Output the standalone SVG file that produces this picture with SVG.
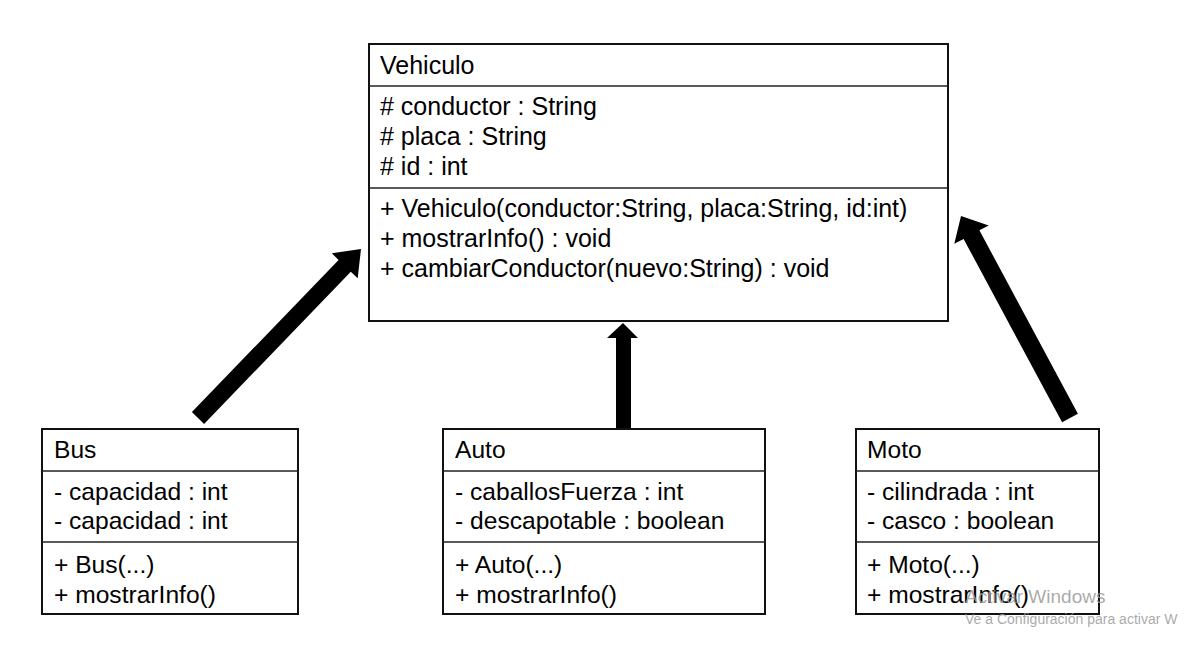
<svg xmlns="http://www.w3.org/2000/svg" width="1187" height="654" viewBox="0 0 1187 654">
<style>
  .box { fill: #ffffff; stroke: #111111; stroke-width: 2; }
  .sep { stroke: #222222; stroke-width: 1.6; }
  .t { font-family: "Liberation Sans", Arial, sans-serif; font-size: 24.6px; fill: #000000; }
  .big { font-size: 25px; }
  .arrow { fill: #000000; stroke: none; }
  .wm1 { font-family: "Liberation Sans", Arial, sans-serif; font-size: 19px; fill: #9a9a9a; fill-opacity: 0.85; }
  .wm2 { font-family: "Liberation Sans", Arial, sans-serif; font-size: 14px; fill: #9a9a9a; fill-opacity: 0.85; }
</style>
<rect width="1187" height="654" fill="#ffffff"/>

<g id="connectors">
  <polygon class="arrow" points="191.9,412.1 338.6,259.9 331.8,253.3 361,249 357.7,278.3 350.8,271.7 204.1,423.9"/>
  <polygon class="arrow" points="616,429 616,338 607,338 623,323 638,338 631,338 631,429"/>
  <polygon class="arrow" points="1077.9,413.7 979.4,230.3 988.7,225.4 961,216 954.3,243.8 963.6,238.9 1062.1,422.3"/>
</g>

<g id="Vehiculo">
  <rect class="box" x="369" y="44" width="579" height="277"/>
  <line class="sep" x1="369" y1="86" x2="948" y2="86"/>
  <line class="sep" x1="369" y1="188" x2="948" y2="188"/>
  <text class="t big" x="380" y="74">Vehiculo</text>
  <text class="t big" x="380" y="115"># conductor : String</text>
  <text class="t big" x="380" y="145"># placa : String</text>
  <text class="t big" x="380" y="175"># id : int</text>
  <text class="t big" x="380" y="217">+ Vehiculo(conductor:String, placa:String, id:int)</text>
  <text class="t big" x="380" y="247">+ mostrarInfo() : void</text>
  <text class="t big" x="380" y="277">+ cambiarConductor(nuevo:String) : void</text>
</g>

<g id="Bus">
  <rect class="box" x="42" y="429" width="256" height="185"/>
  <line class="sep" x1="42" y1="471" x2="298" y2="471"/>
  <line class="sep" x1="42" y1="542" x2="298" y2="542"/>
  <text class="t" x="54" y="458">Bus</text>
  <text class="t" x="54" y="500">- capacidad : int</text>
  <text class="t" x="54" y="529">- capacidad : int</text>
  <text class="t" x="54" y="573">+ Bus(...)</text>
  <text class="t" x="54" y="603">+ mostrarInfo()</text>
</g>

<g id="Auto">
  <rect class="box" x="443" y="429" width="322" height="185"/>
  <line class="sep" x1="443" y1="471" x2="765" y2="471"/>
  <line class="sep" x1="443" y1="542" x2="765" y2="542"/>
  <text class="t" x="455" y="458">Auto</text>
  <text class="t" x="455" y="500">- caballosFuerza : int</text>
  <text class="t" x="455" y="529">- descapotable : boolean</text>
  <text class="t" x="455" y="573">+ Auto(...)</text>
  <text class="t" x="455" y="603">+ mostrarInfo()</text>
</g>

<g id="Moto">
  <rect class="box" x="856" y="429" width="243" height="185"/>
  <line class="sep" x1="856" y1="471" x2="1099" y2="471"/>
  <line class="sep" x1="856" y1="542" x2="1099" y2="542"/>
  <text class="t" x="867" y="458">Moto</text>
  <text class="t" x="867" y="500">- cilindrada : int</text>
  <text class="t" x="867" y="529">- casco : boolean</text>
  <text class="t" x="867" y="573">+ Moto(...)</text>
  <text class="t" x="867" y="603">+ mostrarInfo()</text>
</g>

<g id="watermark">
  <text class="wm1" x="965" y="603">Activar Windows</text>
  <text class="wm2" x="965" y="624">Ve a Configuración para activar W</text>
</g>
</svg>
